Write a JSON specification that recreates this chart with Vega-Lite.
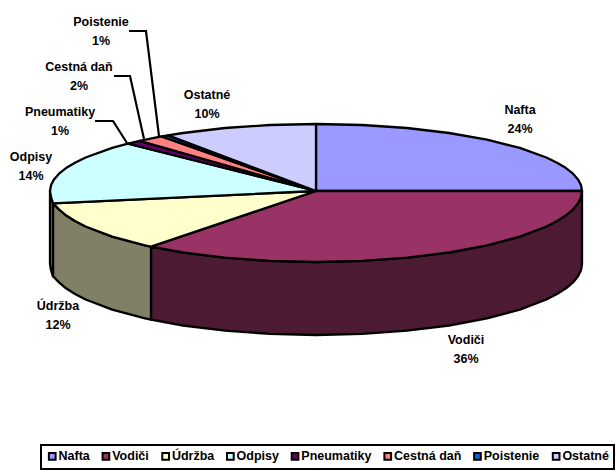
{"$schema":"https://vega.github.io/schema/vega-lite/v6.json","width":616,"height":470,"padding":0,"autosize":"none","background":"white","view":{"stroke":null},"config":{"font":"Liberation Sans","legend":{"strokeWidth":2}},"datasets":{"top":[
{"s":"Nafta","o":1,"x":316,"y":124},{"s":"Nafta","o":2,"x":362.2,"y":125},{"s":"Nafta","o":3,"x":407,"y":128},{"s":"Nafta","o":4,"x":449,"y":133},{"s":"Nafta","o":5,"x":487,"y":139.7},{"s":"Nafta","o":6,"x":519.8,"y":147.9},{"s":"Nafta","o":7,"x":546.4,"y":157.5},{"s":"Nafta","o":8,"x":557,"y":162.7},{"s":"Nafta","o":9,"x":566,"y":168.1},{"s":"Nafta","o":10,"x":573,"y":173.7},{"s":"Nafta","o":11,"x":578,"y":179.4},{"s":"Nafta","o":12,"x":581,"y":185.2},{"s":"Nafta","o":13,"x":582,"y":191},{"s":"Nafta","o":14,"x":316,"y":191},{"s":"Nafta","o":15,"x":316,"y":124},
{"s":"Vodiči","o":1,"x":316,"y":191},{"s":"Vodiči","o":2,"x":582,"y":191},{"s":"Vodiči","o":3,"x":581,"y":197.2},{"s":"Vodiči","o":4,"x":578,"y":203.3},{"s":"Vodiči","o":5,"x":573,"y":209.4},{"s":"Vodiči","o":6,"x":566,"y":215.3},{"s":"Vodiči","o":7,"x":557,"y":221},{"s":"Vodiči","o":8,"x":546.4,"y":226.5},{"s":"Vodiči","o":9,"x":519.8,"y":236.6},{"s":"Vodiči","o":10,"x":487,"y":245.4},{"s":"Vodiči","o":11,"x":449,"y":252.5},{"s":"Vodiči","o":12,"x":407,"y":257.7},{"s":"Vodiči","o":13,"x":362.2,"y":260.9},{"s":"Vodiči","o":14,"x":316,"y":262},{"s":"Vodiči","o":15,"x":269.8,"y":260.9},{"s":"Vodiči","o":16,"x":225,"y":257.7},{"s":"Vodiči","o":17,"x":183,"y":252.5},{"s":"Vodiči","o":18,"x":151,"y":246.7},{"s":"Vodiči","o":19,"x":316,"y":191},
{"s":"Údržba","o":1,"x":316,"y":191},{"s":"Údržba","o":2,"x":151,"y":246.7},{"s":"Údržba","o":3,"x":145,"y":245.4},{"s":"Údržba","o":4,"x":112.2,"y":236.6},{"s":"Údržba","o":5,"x":85.6,"y":226.5},{"s":"Údržba","o":6,"x":75,"y":221},{"s":"Údržba","o":7,"x":66,"y":215.3},{"s":"Údržba","o":8,"x":59,"y":209.4},{"s":"Údržba","o":9,"x":53,"y":203.3},{"s":"Údržba","o":10,"x":316,"y":191},
{"s":"Odpisy","o":1,"x":316,"y":191},{"s":"Odpisy","o":2,"x":53,"y":203.3},{"s":"Odpisy","o":3,"x":51,"y":197.2},{"s":"Odpisy","o":4,"x":50,"y":191},{"s":"Odpisy","o":5,"x":51,"y":185.2},{"s":"Odpisy","o":6,"x":54,"y":179.4},{"s":"Odpisy","o":7,"x":59,"y":173.7},{"s":"Odpisy","o":8,"x":66,"y":168.1},{"s":"Odpisy","o":9,"x":75,"y":162.7},{"s":"Odpisy","o":10,"x":85.6,"y":157.5},{"s":"Odpisy","o":11,"x":112.2,"y":147.9},{"s":"Odpisy","o":12,"x":128,"y":143.6},{"s":"Odpisy","o":13,"x":316,"y":191},
{"s":"Pneumatiky","o":1,"x":316,"y":191},{"s":"Pneumatiky","o":2,"x":128,"y":143.6},{"s":"Pneumatiky","o":3,"x":139.7,"y":140.8},{"s":"Pneumatiky","o":4,"x":316,"y":191},
{"s":"Cestná daň","o":1,"x":316,"y":191},{"s":"Cestná daň","o":2,"x":139.7,"y":140.8},{"s":"Cestná daň","o":3,"x":150.4,"y":138.6},{"s":"Cestná daň","o":4,"x":161.5,"y":136.4},{"s":"Cestná daň","o":5,"x":316,"y":191},
{"s":"Poistenie","o":1,"x":316,"y":191},{"s":"Poistenie","o":2,"x":161.5,"y":136.4},{"s":"Poistenie","o":3,"x":168,"y":135.3},{"s":"Poistenie","o":4,"x":316,"y":191},
{"s":"Ostatné","o":1,"x":316,"y":191},{"s":"Ostatné","o":2,"x":168,"y":135.3},{"s":"Ostatné","o":3,"x":183,"y":133},{"s":"Ostatné","o":4,"x":225,"y":128},{"s":"Ostatné","o":5,"x":269.8,"y":125},{"s":"Ostatné","o":6,"x":316,"y":124},{"s":"Ostatné","o":7,"x":316,"y":191}
],"wall":[
{"s":"Vodiči","o":1,"x":582,"y":191},{"s":"Vodiči","o":2,"x":581,"y":197.2},{"s":"Vodiči","o":3,"x":578,"y":203.3},{"s":"Vodiči","o":4,"x":573,"y":209.4},{"s":"Vodiči","o":5,"x":566,"y":215.3},{"s":"Vodiči","o":6,"x":557,"y":221},{"s":"Vodiči","o":7,"x":546.4,"y":226.5},{"s":"Vodiči","o":8,"x":519.8,"y":236.6},{"s":"Vodiči","o":9,"x":487,"y":245.4},{"s":"Vodiči","o":10,"x":449,"y":252.5},{"s":"Vodiči","o":11,"x":407,"y":257.7},{"s":"Vodiči","o":12,"x":362.2,"y":260.9},{"s":"Vodiči","o":13,"x":316,"y":262},{"s":"Vodiči","o":14,"x":269.8,"y":260.9},{"s":"Vodiči","o":15,"x":225,"y":257.7},{"s":"Vodiči","o":16,"x":183,"y":252.5},{"s":"Vodiči","o":17,"x":151,"y":246.7},{"s":"Vodiči","o":18,"x":151,"y":319.7},{"s":"Vodiči","o":19,"x":183,"y":325.5},{"s":"Vodiči","o":20,"x":225,"y":330.7},{"s":"Vodiči","o":21,"x":269.8,"y":333.9},{"s":"Vodiči","o":22,"x":316,"y":335},{"s":"Vodiči","o":23,"x":362.2,"y":333.9},{"s":"Vodiči","o":24,"x":407,"y":330.7},{"s":"Vodiči","o":25,"x":449,"y":325.5},{"s":"Vodiči","o":26,"x":487,"y":318.4},{"s":"Vodiči","o":27,"x":519.8,"y":309.6},{"s":"Vodiči","o":28,"x":546.4,"y":299.5},{"s":"Vodiči","o":29,"x":557,"y":294},{"s":"Vodiči","o":30,"x":566,"y":288.3},{"s":"Vodiči","o":31,"x":573,"y":282.4},{"s":"Vodiči","o":32,"x":578,"y":276.3},{"s":"Vodiči","o":33,"x":581,"y":270.2},{"s":"Vodiči","o":34,"x":582,"y":264},{"s":"Vodiči","o":35,"x":582,"y":191},
{"s":"Údržba","o":1,"x":151,"y":246.7},{"s":"Údržba","o":2,"x":145,"y":245.4},{"s":"Údržba","o":3,"x":112.2,"y":236.6},{"s":"Údržba","o":4,"x":85.6,"y":226.5},{"s":"Údržba","o":5,"x":75,"y":221},{"s":"Údržba","o":6,"x":66,"y":215.3},{"s":"Údržba","o":7,"x":59,"y":209.4},{"s":"Údržba","o":8,"x":53,"y":203.3},{"s":"Údržba","o":9,"x":53,"y":276.3},{"s":"Údržba","o":10,"x":59,"y":282.4},{"s":"Údržba","o":11,"x":66,"y":288.3},{"s":"Údržba","o":12,"x":75,"y":294},{"s":"Údržba","o":13,"x":85.6,"y":299.5},{"s":"Údržba","o":14,"x":112.2,"y":309.6},{"s":"Údržba","o":15,"x":145,"y":318.4},{"s":"Údržba","o":16,"x":151,"y":319.7},{"s":"Údržba","o":17,"x":151,"y":246.7},
{"s":"Odpisy","o":1,"x":53,"y":203.3},{"s":"Odpisy","o":2,"x":51,"y":197.2},{"s":"Odpisy","o":3,"x":50,"y":191},{"s":"Odpisy","o":4,"x":50,"y":264},{"s":"Odpisy","o":5,"x":51,"y":270.2},{"s":"Odpisy","o":6,"x":53,"y":276.3},{"s":"Odpisy","o":7,"x":53,"y":203.3}
],"leaders":[
{"s":"Poistenie","o":1,"x":129,"y":31},{"s":"Poistenie","o":2,"x":146,"y":31},{"s":"Poistenie","o":3,"x":159,"y":136},
{"s":"Cestná daň","o":1,"x":114,"y":76},{"s":"Cestná daň","o":2,"x":130,"y":76},{"s":"Cestná daň","o":3,"x":144,"y":139},
{"s":"Pneumatiky","o":1,"x":95,"y":121},{"s":"Pneumatiky","o":2,"x":113,"y":121},{"s":"Pneumatiky","o":3,"x":127,"y":143}
],"labels":[
{"t":"Nafta\n24%","x":520,"y":110},{"t":"Vodiči\n36%","x":466,"y":340},{"t":"Údržba\n12%","x":58,"y":306},{"t":"Odpisy\n14%","x":31,"y":157},{"t":"Pneumatiky\n1%","x":60,"y":112},{"t":"Cestná daň\n2%","x":79,"y":67},{"t":"Poistenie\n1%","x":101,"y":22},{"t":"Ostatné\n10%","x":207,"y":95}
]},
"encoding":{"x":{"field":"x","type":"quantitative","scale":{"domain":[0,616],"nice":false,"zero":false},"axis":null},"y":{"field":"y","type":"quantitative","scale":{"domain":[470,0],"nice":false,"zero":false},"axis":null}},
"layer":[
{"data":{"name":"wall"},"mark":{"type":"line","stroke":"black","strokeWidth":2.3,"strokeJoin":"round"},"encoding":{"order":{"field":"o","type":"quantitative"},"fill":{"field":"s","type":"nominal","legend":null,"scale":{"domain":["Vodiči","Údržba","Odpisy"],"range":["#4D1A33","#808066","#668080"]}}}},
{"data":{"name":"top"},"mark":{"type":"line","stroke":"black","strokeWidth":2.3,"strokeJoin":"round"},"encoding":{"order":{"field":"o","type":"quantitative"},"fill":{"field":"s","type":"nominal","sort":null,"scale":{"domain":["Nafta","Vodiči","Údržba","Odpisy","Pneumatiky","Cestná daň","Poistenie","Ostatné"],"range":["#9999FF","#993366","#FFFFCC","#CCFFFF","#660066","#FF8080","#0066CC","#CCCCFF"]},"legend":{"title":null,"orient":"none","legendX":41,"legendY":445,"direction":"horizontal","columns":8,"columnPadding":7.7,"gridAlign":"each","symbolType":"square","symbolSize":45,"symbolStrokeColor":"black","symbolStrokeWidth":2,"labelFont":"Liberation Sans","labelFontWeight":"bold","labelFontSize":12.5,"labelColor":"#000","labelOffset":0,"padding":5,"strokeColor":"black","fillColor":"white","labelLimit":200}}}},
{"data":{"name":"leaders"},"mark":{"type":"line","stroke":"black","strokeWidth":2.2,"strokeJoin":"miter"},"encoding":{"detail":{"field":"s"},"order":{"field":"o","type":"quantitative"}}},
{"data":{"name":"labels"},"mark":{"type":"text","font":"Liberation Sans","fontWeight":"bold","fontSize":12.5,"lineBreak":"\n","lineHeight":19,"align":"center","baseline":"middle","color":"#000"},"encoding":{"text":{"field":"t"}}}
],
"resolve":{"scale":{"fill":"independent"}}}
